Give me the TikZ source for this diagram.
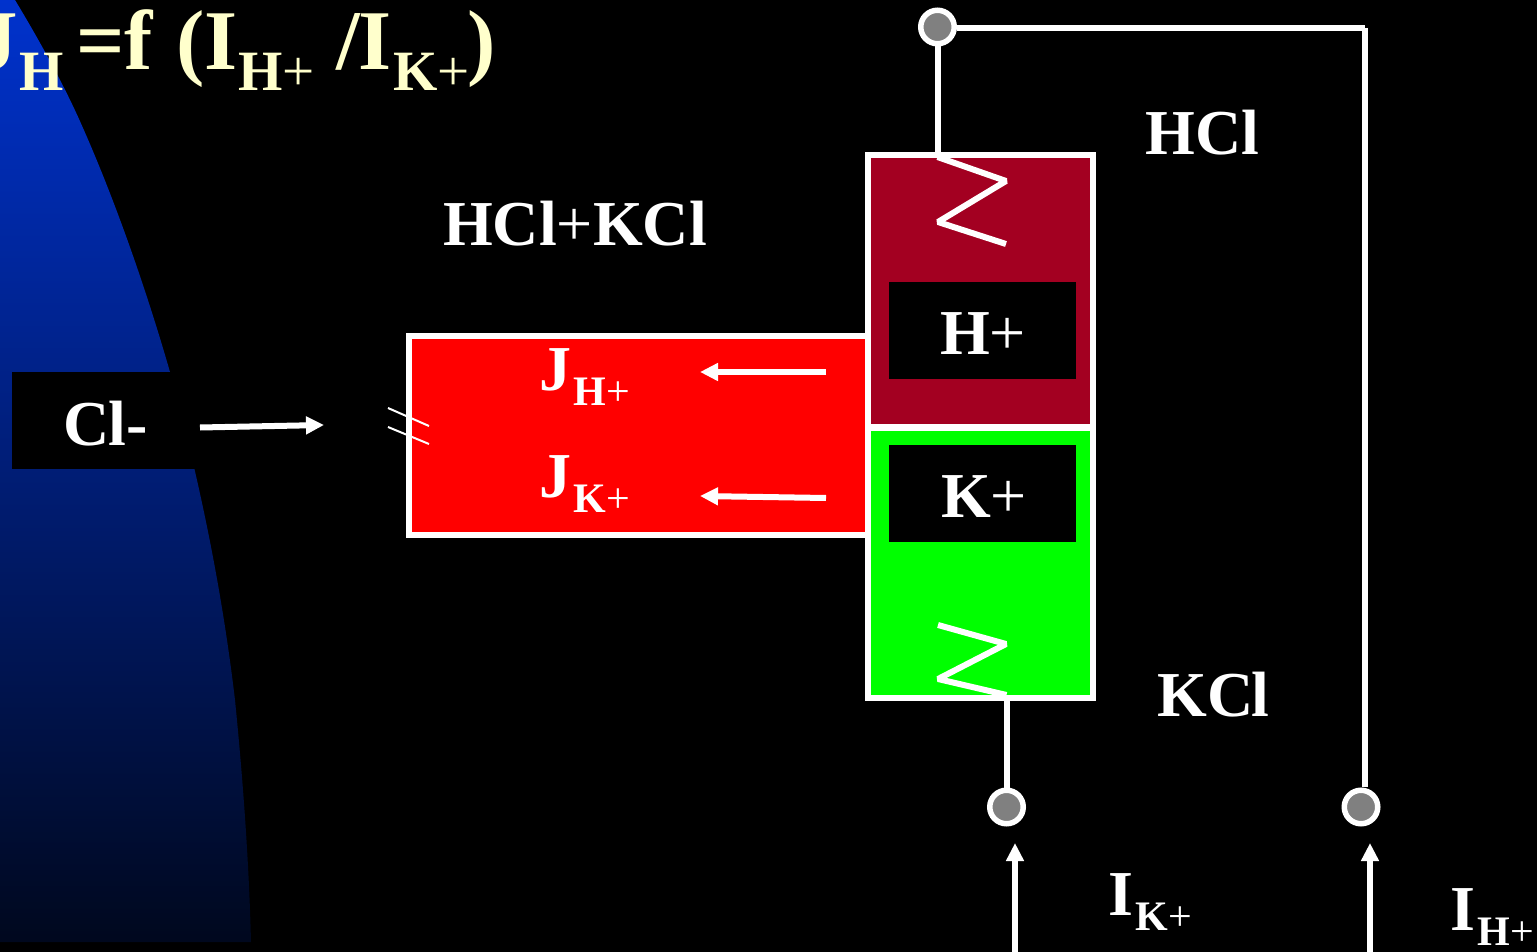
\documentclass[tikz,border=0pt]{standalone}
\usepackage{fontspec}
\setmainfont{Liberation Serif}
\usetikzlibrary{arrows.meta,shapes.geometric}
\definecolor{titlecol}{RGB}{255,255,204}
\definecolor{maroon}{RGB}{163,0,33}
\definecolor{bluetop}{RGB}{0,50,205}
\definecolor{bluemid}{RGB}{0,36,130}
\definecolor{bluebot}{RGB}{0,8,30}
\definecolor{termgray}{RGB}{128,128,128}
\newcommand{\sz}[1]{\fontsize{#1}{#1}\selectfont}
\newcommand{\thinp}{{\mdseries +}}
\newcommand{\lbl}[2]{#1\hspace{2pt}\raisebox{-15pt}{\sz{42}#2}}
\tikzset{
  x=1pt,y=-1pt,
  wire/.style={draw=white,line width=6pt},
  zig/.style={draw=white,line width=6pt,line join=bevel},
  flow/.style={draw=white,line width=6pt,-{Triangle[length=18pt,width=17pt]}},
  tick/.style={draw=white,line width=2pt},
  cell/.style={draw=white,line width=6pt},
  plate/.style={fill=black,anchor=north west,inner sep=0pt},
  txt/.style={anchor=base west,inner sep=0pt,text=white,font=\sz{64}\bfseries},
  term/.style={ellipse,draw=white,fill=termgray,line width=5.5pt,minimum width=33.5pt,minimum height=33.5pt,inner sep=0pt},
}
\begin{document}
\begin{tikzpicture}
\useasboundingbox (0,0) rectangle (1537,952);
\fill[black] (0,0) rectangle (1537,952);
% blue curved background
\begin{scope}
\clip (0,0) -- (15,0) .. controls (35,33) and (61,79) .. (79,119)
  .. controls (115,199) and (147,292) .. (170,372)
  .. controls (200,482) and (222,590) .. (235,700)
  .. controls (243,780) and (249,862) .. (251,942) -- (0,942) -- cycle;
\shade[top color=bluetop,middle color=bluemid,bottom color=bluebot,shading angle=0] (0,0) rectangle (260,942);
\end{scope}
% red chamber
\node[draw=white,fill=red,line width=6pt,anchor=north west,minimum width=459pt,minimum height=199pt,inner sep=0pt,outer sep=0pt] (redbox) at (408.5,336) {};
% cells
\node[cell,fill=maroon,anchor=north west,minimum width=225pt,minimum height=272pt,inner sep=0pt,outer sep=0pt] (hcell) at (868,155) {};
\node[cell,fill=green,anchor=north west,minimum width=225pt,minimum height=270pt,inner sep=0pt,outer sep=0pt] (kcell) at (868,427.5) {};
% ion plates
\node[plate,minimum width=187pt,minimum height=97pt] (hplate) at (889,282) {};
\node[plate,minimum width=187pt,minimum height=97pt] (kplate) at (889,445) {};
\node[plate,minimum width=184pt,minimum height=97pt] (clplate) at (12,372) {};
% terminals
\node[term] (ttop) at (937.5,27) {};
\node[term] (tk) at (1006.5,807) {};
\node[term] (th) at (1361,807) {};
% zigzag electrodes
\coordinate (z1a) at (937.5,157);
\coordinate (z1d) at (1006,244);
\coordinate (z2a) at (938,625);
\coordinate (z2d) at (1006.5,695);
\draw[zig] (z1a) -- (1006,181) -- (938,222) -- (z1d);
\draw[zig] (z2a) -- (1006,644) -- (938,679) -- (z2d);
% wires
\coordinate (corner) at (1365,28);
\coordinate (thin) at (1365,787);
\draw[wire] (ttop.south) -- (z1a);
\draw[wire] (z2d) -- (tk.north);
\draw[wire] (ttop.east |- corner) -- (corner);
\draw[wire] (corner) -- (thin);
% arrows
\coordinate (a1s) at (200,427.5); \coordinate (a1e) at (324,425);
\coordinate (a2s) at (826,372);   \coordinate (a2e) at (700,372);
\coordinate (a3s) at (826,498);   \coordinate (a3e) at (700,496);
\coordinate (a4s) at (1015,952);  \coordinate (a4e) at (1015,843);
\coordinate (a5s) at (1370,952);  \coordinate (a5e) at (1370,843);
\draw[flow] (a1s) -- (a1e);
\draw[flow] (a2s) -- (a2e);
\draw[flow] (a3s) -- (a3e);
\draw[flow] (a4s) -- (a4e);
\draw[flow] (a5s) -- (a5e);
% ticks
\coordinate (t1a) at (388,408); \coordinate (t1b) at (429,426);
\coordinate (t2a) at (388,427); \coordinate (t2b) at (429,444);
\draw[tick] (t1a) -- (t1b);
\draw[tick] (t2a) -- (t2b);
% text
\node[txt,text=titlecol,font=\sz{85}\bfseries] (title) at (-25,70)
  {J\hspace{2pt}\raisebox{-21pt}{\sz{57}H}\hspace{12pt}=f\hspace{24pt}(\kern-1pt I\kern1pt\raisebox{-21pt}{\sz{57}H\thinp}\hspace{22pt}/\kern-2pt I\kern2pt\raisebox{-21pt}{\sz{57}K\thinp}\kern-2pt)};
\node[txt] (lhcl) at (1145,155) {HCl};
\node[txt] (lkcl) at (1157,716) {KC\kern-2pt l};
\node[txt] (lmix) at (443,246) {HCl\thinp KCl};
\node[txt] (lcl) at (63.5,445) {C\kern-1.5pt l-};
\node[txt] (lh) at (940,354) {H\thinp};
\node[txt] (lk) at (941,517) {K\thinp};
\node[txt] (jh) at (539.5,390) {\lbl{J}{H\thinp}};
\node[txt] (jk) at (539.5,497) {\lbl{J}{K\thinp}};
\node[txt] (ik) at (1108.5,915) {\lbl{I}{K\thinp}};
\node[txt] (ih) at (1450.5,930) {\lbl{I}{H\thinp}};
\end{tikzpicture}
\end{document}
